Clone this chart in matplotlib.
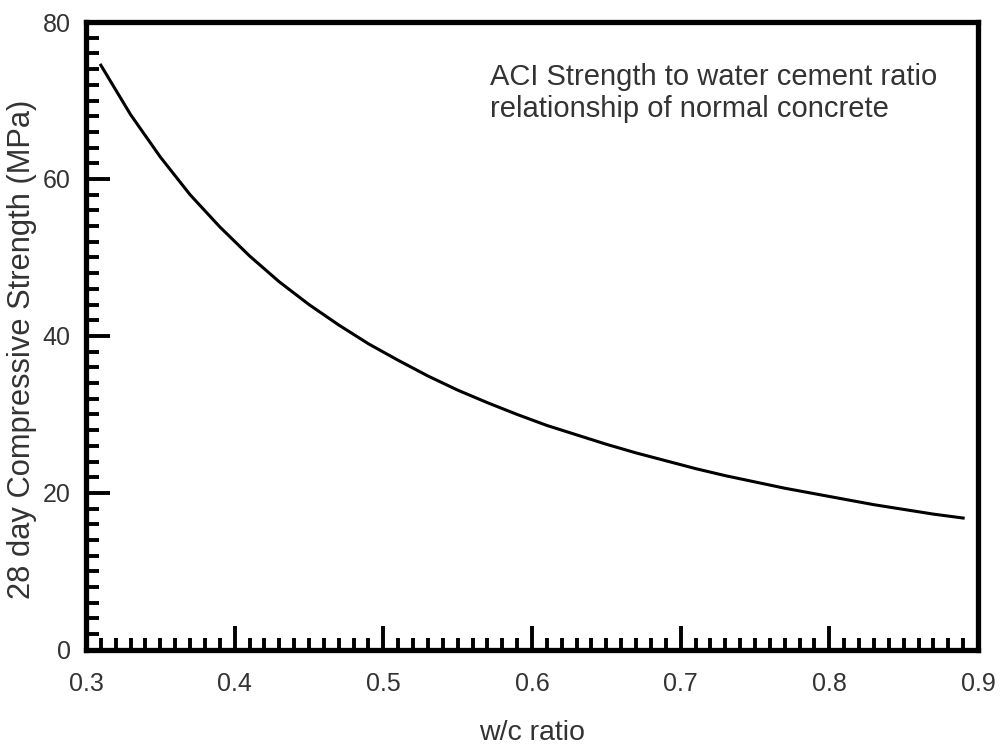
import matplotlib.pyplot as plt
from matplotlib.ticker import MultipleLocator

# w/c ratio and 28 day strength (MPa)
wc = [0.31, 0.33, 0.35, 0.37, 0.39, 0.41, 0.43, 0.45, 0.47, 0.49,
      0.51, 0.53, 0.55, 0.57, 0.59, 0.61, 0.63, 0.65, 0.67, 0.69,
      0.71, 0.73, 0.75, 0.77, 0.79, 0.81, 0.83, 0.85, 0.87, 0.89]
strength = [74.5, 68.2, 62.8, 58.0, 53.9, 50.2, 46.9, 44.0, 41.4, 39.0,
            36.9, 34.9, 33.1, 31.5, 30.0, 28.6, 27.4, 26.2, 25.1, 24.1,
            23.1, 22.2, 21.4, 20.6, 19.9, 19.2, 18.5, 17.9, 17.3, 16.8]

plt.rcParams['font.family'] = ['Liberation Sans', 'DejaVu Sans']
txt = '#333333'

fig = plt.figure(figsize=(10, 7.47), dpi=100)
ax = fig.add_axes([0.086, 0.13, 0.892, 0.8405])

ax.plot(wc, strength, color='black', lw=2.2)

ax.set_xlim(0.3, 0.9)
ax.set_ylim(0, 80)
ax.xaxis.set_major_locator(MultipleLocator(0.1))
ax.xaxis.set_minor_locator(MultipleLocator(0.01))
ax.yaxis.set_major_locator(MultipleLocator(20))
ax.yaxis.set_minor_locator(MultipleLocator(2))
ax.set_xticklabels([f'{v:.1f}' for v in ax.get_xticks()])

for s in ax.spines.values():
    s.set_linewidth(3.8)
ax.tick_params(which='both', direction='in', top=False, right=False,
               labelsize=18, labelcolor=txt, color='black')
ax.tick_params(which='major', length=17, width=2.8)
ax.tick_params(which='minor', length=9, width=2.8)
ax.tick_params(axis='x', which='major', pad=16)
ax.tick_params(axis='y', which='major', pad=11)

ax.set_xlabel('w/c ratio', fontsize=20.5, color=txt, va='center')
ax.xaxis.set_label_coords(0.5, -0.132)
ax.set_ylabel('28 day Compressive Strength (MPa)', fontsize=22.2, color=txt, va='center')
ax.yaxis.set_label_coords(-0.072, 0.479)

ax.text(0.453, 0.935, 'ACI Strength to water cement ratio\nrelationship of normal concrete',
        transform=ax.transAxes, fontsize=21, color=txt, va='top', linespacing=1.2)

fig.savefig('out.png', dpi=100)
